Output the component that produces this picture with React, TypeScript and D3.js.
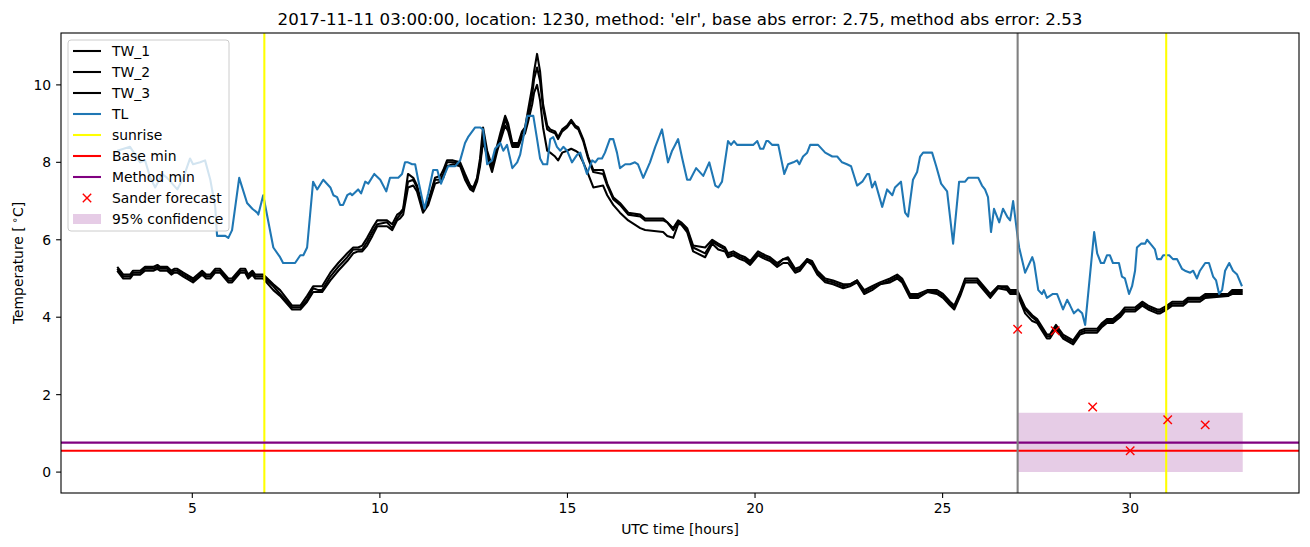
import React from 'react';
import * as d3 from 'd3';

// ---------- data ----------
const TL_HOURS = [3.00,3.34,3.61,3.74,3.88,4.01,4.20,4.33,4.60,4.76,4.94,5.02,5.21,5.34,5.48,5.61,5.66,5.88,5.96,6.06,6.25,6.46,6.60,6.73,6.76,6.89,7.16,7.34,7.42,7.74,7.88,7.96,8.06,8.22,8.33,8.49,8.68,8.76,8.86,8.94,9.02,9.13,9.21,9.26,9.42,9.50,9.61,9.69,9.85,10.01,10.17,10.27,10.49,10.59,10.67,10.75,10.86,10.94,11.02,11.13,11.19,11.29,11.42,11.53,11.63,11.69,11.82,12.01,12.14,12.27,12.35,12.54,12.67,12.75,12.86,12.99,13.07,13.21,13.29,13.39,13.53,13.66,13.74,13.93,14.09,14.19,14.27,14.35,14.46,14.54,14.62,14.72,14.81,14.89,14.99,15.12,15.26,15.34,15.52,15.66,15.74,15.82,15.92,16.00,16.13,16.22,16.32,16.40,16.54,16.67,16.80,16.88,17.02,17.20,17.34,17.52,17.68,17.79,17.87,17.95,18.06,18.19,18.27,18.43,18.62,18.78,18.94,19.02,19.12,19.28,19.36,19.44,19.52,19.95,20.06,20.14,20.22,20.30,20.35,20.46,20.62,20.78,20.88,21.02,21.12,21.18,21.28,21.39,21.47,21.68,21.87,22.06,22.19,22.32,22.45,22.56,22.72,22.86,22.99,23.04,23.12,23.20,23.39,23.52,23.66,23.73,23.89,24.00,24.08,24.21,24.32,24.40,24.48,24.72,24.83,24.96,25.12,25.28,25.44,25.60,25.68,25.95,26.05,26.13,26.21,26.29,26.37,26.51,26.61,26.72,26.80,26.88,26.99,27.04,27.20,27.39,27.44,27.55,27.65,27.70,27.78,27.94,28.05,28.21,28.32,28.40,28.50,28.61,28.72,28.80,29.04,29.12,29.22,29.30,29.38,29.46,29.54,29.70,29.78,29.86,29.97,30.05,30.13,30.18,30.29,30.40,30.45,30.58,30.66,30.72,30.82,30.88,31.04,31.14,31.25,31.38,31.46,31.60,31.68,31.78,31.86,32.00,32.10,32.21,32.29,32.37,32.45,32.53,32.64,32.74,32.85,32.98];
const TL_VALUES = [8.3,8.4,8.0,8.05,7.6,7.35,7.7,7.6,7.3,7.6,8.1,7.95,8.0,8.05,7.55,6.85,6.1,6.1,6.05,6.25,7.6,6.95,6.8,6.7,6.65,7.15,5.8,5.55,5.4,5.4,5.6,5.6,5.8,7.5,7.3,7.55,7.35,7.15,7.1,6.9,6.9,7.15,7.2,7.15,7.3,7.2,7.5,7.45,7.7,7.55,7.25,7.6,7.6,7.7,8.0,8.0,7.95,7.95,7.55,7.05,6.8,7.2,7.8,7.8,7.45,7.6,7.9,7.9,8.05,8.5,8.65,8.9,8.9,8.85,7.95,8.05,8.35,8.5,8.3,8.45,7.85,8.0,8.2,9.2,9.2,8.6,8.1,7.95,7.95,8.6,8.65,8.4,8.3,8.4,8.3,8.0,8.2,8.25,7.7,8.05,8.0,8.1,8.1,8.25,8.6,8.6,8.25,7.85,7.95,7.95,8.0,7.95,7.6,8.0,8.4,8.85,8.0,8.3,8.45,8.6,8.1,7.55,7.55,7.85,7.65,8.0,7.4,7.35,7.5,8.55,8.45,8.55,8.45,8.45,8.55,8.35,8.35,8.55,8.55,8.45,8.45,7.7,7.95,8.0,8.05,7.95,8.15,8.25,8.45,8.45,8.25,8.15,8.15,8.0,7.95,7.9,7.4,7.5,7.7,7.7,7.35,7.5,6.85,7.3,7.15,7.35,7.5,6.7,6.6,7.55,7.75,8.15,8.25,8.25,7.9,7.45,7.25,5.9,7.5,7.5,7.6,7.6,7.4,7.3,7.1,6.2,6.8,6.45,6.8,6.6,6.5,7.0,6.15,5.8,5.15,5.55,5.4,4.7,4.6,4.7,4.5,4.6,4.6,4.2,4.45,4.3,4.1,4.2,4.1,3.8,6.2,5.65,5.4,5.4,5.6,5.6,5.4,5.4,5.05,5.0,4.6,4.8,5.2,5.8,5.9,5.9,6.0,5.85,5.75,5.5,5.5,5.6,5.6,5.5,5.5,5.25,5.2,5.15,5.2,5.0,5.2,5.4,5.4,5.05,4.95,4.6,4.7,5.2,5.4,5.2,5.1,4.8];

const TW_HOURS = [3.00,3.16,3.34,3.42,3.61,3.74,3.96,4.07,4.14,4.33,4.44,4.52,4.60,4.76,5.02,5.26,5.37,5.48,5.61,5.74,5.96,6.06,6.28,6.41,6.49,6.60,6.68,6.89,7.16,7.34,7.66,7.88,8.06,8.22,8.36,8.46,8.68,8.89,9.13,9.29,9.42,9.53,9.66,9.80,9.93,10.19,10.33,10.46,10.54,10.62,10.75,10.89,10.99,11.15,11.29,11.47,11.61,11.69,11.79,11.95,12.14,12.27,12.41,12.49,12.59,12.67,12.75,12.86,12.99,13.13,13.21,13.34,13.42,13.53,13.69,13.79,13.87,13.95,14.06,14.11,14.19,14.27,14.35,14.46,14.54,14.67,14.75,14.86,14.99,15.10,15.21,15.29,15.42,15.55,15.69,15.95,16.06,16.22,16.40,16.62,16.94,17.07,17.55,17.66,17.82,17.95,18.03,18.19,18.35,18.67,18.86,19.02,19.20,19.28,19.42,19.60,19.74,19.87,20.08,20.27,20.40,20.59,20.75,20.88,21.07,21.20,21.39,21.52,21.66,21.87,22.08,22.35,22.53,22.72,22.91,23.12,23.33,23.60,23.79,23.92,24.13,24.35,24.59,24.85,25.01,25.20,25.31,25.47,25.60,25.92,26.27,26.48,26.72,26.80,26.99,27.20,27.39,27.52,27.78,27.86,28.02,28.21,28.48,28.66,28.80,29.12,29.25,29.38,29.54,29.73,29.86,30.13,30.32,30.48,30.72,30.80,30.98,31.12,31.41,31.54,31.86,32.00,32.61,32.72,33.00];
const TW_1 = [5.3,5.1,5.1,5.2,5.2,5.3,5.3,5.35,5.3,5.3,5.2,5.25,5.25,5.15,5.0,5.2,5.1,5.1,5.25,5.25,5.0,5.0,5.25,5.25,5.1,5.2,5.1,5.1,4.85,4.7,4.3,4.3,4.55,4.8,4.8,4.8,5.15,5.4,5.65,5.8,5.8,5.85,6.05,6.3,6.5,6.5,6.4,6.65,6.7,6.8,7.7,7.6,7.4,6.8,7.0,7.6,7.65,7.8,8.05,8.05,8.0,7.7,7.4,7.35,7.6,8.1,8.9,8.3,7.9,8.45,8.75,9.2,9.0,8.5,8.5,8.8,8.9,9.35,9.95,10.35,10.8,10.35,9.5,8.95,8.85,8.8,8.65,8.85,8.95,9.1,8.95,8.9,8.6,8.15,7.8,7.8,7.45,7.1,6.95,6.7,6.65,6.55,6.55,6.45,6.3,6.5,6.45,6.3,5.85,5.8,6.0,5.9,5.8,5.65,5.7,5.6,5.55,5.45,5.7,5.6,5.55,5.4,5.5,5.55,5.25,5.3,5.5,5.45,5.2,5.0,4.95,4.85,4.85,4.95,4.7,4.8,4.9,5.0,5.1,5.0,4.6,4.6,4.7,4.7,4.6,4.4,4.3,4.65,5.0,5.0,4.6,4.8,4.8,4.7,4.7,4.25,4.05,3.95,3.55,3.55,3.8,3.55,3.4,3.65,3.7,3.7,3.85,3.95,3.95,4.1,4.25,4.25,4.4,4.3,4.2,4.2,4.3,4.4,4.4,4.5,4.5,4.6,4.6,4.7,4.7];
const TW_2 = [5.25,5.05,5.05,5.15,5.15,5.25,5.25,5.3,5.25,5.25,5.15,5.2,5.2,5.1,4.95,5.15,5.05,5.05,5.2,5.2,4.95,4.95,5.2,5.2,5.05,5.15,5.05,5.05,4.8,4.6,4.25,4.25,4.45,4.75,4.7,4.7,5.05,5.3,5.55,5.75,5.75,5.75,5.95,6.2,6.4,6.45,6.3,6.55,6.65,6.75,7.5,7.55,7.35,6.75,6.95,7.55,7.55,7.7,8.0,8.0,7.95,7.65,7.35,7.3,7.55,8.0,8.6,8.2,7.85,8.4,8.65,9.1,8.9,8.45,8.45,8.75,8.85,9.2,9.75,10.15,10.45,10.1,9.4,8.85,8.8,8.75,8.6,8.8,8.9,9.05,8.9,8.85,8.55,8.1,7.75,7.7,7.4,7.05,6.9,6.65,6.6,6.5,6.5,6.45,6.25,6.45,6.4,6.25,5.8,5.65,5.95,5.85,5.75,5.6,5.65,5.55,5.5,5.4,5.65,5.55,5.5,5.35,5.5,5.5,5.2,5.25,5.5,5.4,5.15,4.95,4.9,4.8,4.85,4.95,4.65,4.75,4.85,4.95,5.05,4.95,4.55,4.55,4.65,4.65,4.55,4.35,4.25,4.6,4.95,4.95,4.55,4.8,4.75,4.65,4.65,4.2,4.0,3.9,3.5,3.5,3.75,3.5,3.35,3.6,3.65,3.65,3.8,3.9,3.9,4.05,4.2,4.2,4.35,4.25,4.15,4.15,4.25,4.35,4.35,4.45,4.45,4.55,4.55,4.65,4.65];
const TW_3 = [5.2,5.0,5.0,5.1,5.1,5.2,5.2,5.25,5.2,5.2,5.1,5.15,5.15,5.05,4.9,5.1,5.0,5.0,5.15,5.15,4.9,4.9,5.15,5.15,5.0,5.1,5.0,5.0,4.7,4.55,4.2,4.2,4.4,4.65,4.65,4.65,4.95,5.2,5.45,5.65,5.7,5.7,5.85,6.1,6.35,6.35,6.25,6.5,6.55,6.65,7.35,7.4,7.25,6.7,6.9,7.45,7.5,7.6,7.9,7.95,7.9,7.55,7.3,7.25,7.5,7.9,8.55,8.15,7.75,8.3,8.55,8.95,8.8,8.4,8.4,8.65,8.75,9.05,9.5,9.8,10.0,9.6,8.9,8.3,8.25,8.15,8.05,8.25,8.3,8.35,8.3,8.25,8.0,7.7,7.35,7.4,7.15,6.9,6.7,6.5,6.3,6.25,6.2,6.1,6.05,6.4,6.4,6.2,5.7,5.55,5.9,5.75,5.7,5.55,5.6,5.5,5.45,5.35,5.6,5.5,5.45,5.3,5.4,5.4,5.15,5.2,5.45,5.35,5.1,4.9,4.85,4.75,4.8,4.9,4.6,4.7,4.85,4.9,5.0,4.9,4.5,4.5,4.65,4.6,4.5,4.3,4.2,4.55,4.9,4.9,4.5,4.75,4.7,4.6,4.6,4.1,3.9,3.85,3.45,3.45,3.7,3.45,3.3,3.55,3.6,3.6,3.75,3.85,3.85,4.0,4.15,4.15,4.3,4.2,4.1,4.1,4.2,4.3,4.3,4.4,4.4,4.5,4.55,4.6,4.6];

const SUNRISE_HOURS = [6.92, 30.96];
const FORECAST_HOUR = 27.0;
const BASE_MIN = 0.55;
const METHOD_MIN = 0.76;
const SANDER_HOURS = [27, 28, 29, 30, 31, 32];
const SANDER_VALUES = [3.69, 3.65, 1.68, 0.55, 1.35, 1.22];
const CONF_HOURS = [27, 33];
const CONF_LOW = [0, 0];
const CONF_HIGH = [1.53, 1.53];

const X_TICKS = [5, 10, 15, 20, 25, 30];
const Y_TICKS = [0, 2, 4, 6, 8, 10];
const TITLE = "2017-11-11 03:00:00, location: 1230, method: 'elr', base abs error: 2.75, method abs error: 2.53";

const LEGEND = [
  { label: 'TW_1', kind: 'line', color: '#000000' },
  { label: 'TW_2', kind: 'line', color: '#000000' },
  { label: 'TW_3', kind: 'line', color: '#000000' },
  { label: 'TL', kind: 'line', color: '#1f77b4' },
  { label: 'sunrise', kind: 'line', color: '#ffff00' },
  { label: 'Base min', kind: 'line', color: '#ff0000' },
  { label: 'Method min', kind: 'line', color: '#800080' },
  { label: 'Sander forecast', kind: 'marker', color: '#ff0000' },
  { label: '95% confidence', kind: 'patch', color: '#800080' },
];

// ---------- layout ----------
const W = 1310, H = 547;
const L = 61, R = 1299, T = 33, B = 493;
const FONT = 'DejaVu Sans, sans-serif';
const LW = 2.08;

export default function App() {
  const x = d3.scaleLinear().domain([1.5, 34.5]).range([L, R]);
  const y = d3.scaleLinear().domain([-0.54, 11.34]).range([B, T]);

  const mkLine = (hs: number[], vs: number[]) =>
    d3.line<number>().x((_, i) => x(hs[i])).y((v) => y(v))(vs) || '';

  const area = d3.area<number>()
    .x((_, i) => x(CONF_HOURS[i]))
    .y0((_, i) => y(CONF_LOW[i]))
    .y1((v) => y(v))(CONF_HIGH) || '';

  const xMark = (cx: number, cy: number, r: number, key: any, color: string) => (
    <g key={key} stroke={color} strokeWidth={1.4}>
      <line x1={cx - r} y1={cy - r} x2={cx + r} y2={cy + r} />
      <line x1={cx - r} y1={cy + r} x2={cx + r} y2={cy - r} />
    </g>
  );

  const legX = 68, legY = 40, legW = 161, legH = 191;
  const rowY0 = 51, rowDy = 21;

  return (
    <svg width={W} height={H} style={{ position: 'absolute', left: 0, top: 0, background: '#fff' }} fontFamily={FONT}>
      <defs>
        <clipPath id="plotclip"><rect x={L} y={T} width={R - L} height={B - T} /></clipPath>
      </defs>
      <rect x={0} y={0} width={W} height={H} fill="#fff" />
      <g clipPath="url(#plotclip)">
        <path d={area} fill="#800080" fillOpacity={0.2} />
        <path d={mkLine(TW_HOURS, TW_1)} fill="none" stroke="#000" strokeWidth={LW} strokeLinejoin="round" />
        <path d={mkLine(TW_HOURS, TW_2)} fill="none" stroke="#000" strokeWidth={LW} strokeLinejoin="round" />
        <path d={mkLine(TW_HOURS, TW_3)} fill="none" stroke="#000" strokeWidth={LW} strokeLinejoin="round" />
        <path d={mkLine(TL_HOURS, TL_VALUES)} fill="none" stroke="#1f77b4" strokeWidth={LW} strokeLinejoin="round" />
        {SUNRISE_HOURS.map((h, i) => (
          <line key={'s' + i} x1={x(h)} x2={x(h)} y1={T} y2={B} stroke="#ffff00" strokeWidth={LW} />
        ))}
        <line x1={L} x2={R} y1={y(BASE_MIN)} y2={y(BASE_MIN)} stroke="#ff0000" strokeWidth={LW} />
        <line x1={L} x2={R} y1={y(METHOD_MIN)} y2={y(METHOD_MIN)} stroke="#800080" strokeWidth={LW} />
        <line x1={x(FORECAST_HOUR)} x2={x(FORECAST_HOUR)} y1={T} y2={B} stroke="#808080" strokeWidth={LW} />
        {SANDER_HOURS.map((h, i) => xMark(x(h), y(SANDER_VALUES[i]), 4.2, 'm' + i, '#ff0000'))}
      </g>

      {/* axes frame */}
      <rect x={L} y={T} width={R - L} height={B - T} fill="none" stroke="#000" strokeWidth={1.1} />

      {/* x ticks */}
      {X_TICKS.map((t) => (
        <g key={'xt' + t}>
          <line x1={x(t)} x2={x(t)} y1={B} y2={B + 4.9} stroke="#000" strokeWidth={1.1} />
          <text x={x(t)} y={513} fontSize={13.9} textAnchor="middle" fill="#000">{t}</text>
        </g>
      ))}
      {/* y ticks */}
      {Y_TICKS.map((t) => (
        <g key={'yt' + t}>
          <line x1={L - 4.9} x2={L} y1={y(t)} y2={y(t)} stroke="#000" strokeWidth={1.1} />
          <text x={L - 9.8} y={y(t)} dy="0.36em" fontSize={13.9} textAnchor="end" fill="#000">{t}</text>
        </g>
      ))}

      <text x={(L + R) / 2} y={534} fontSize={13.9} textAnchor="middle" fill="#000">UTC time [hours]</text>
      <text transform={`translate(23,${(T + B) / 2}) rotate(-90)`} fontSize={13.9} textAnchor="middle" fill="#000">
        Temperature [<tspan dx="3" fontSize={10} dy="-5">∘</tspan><tspan dy="5">C]</tspan>
      </text>
      <text x={(L + R) / 2} y={25} fontSize={16.67} textAnchor="middle" fill="#000">{TITLE}</text>

      {/* legend */}
      <rect x={legX} y={legY} width={legW} height={legH} rx={3} ry={3} fill="#fff" fillOpacity={0.8} stroke="#cccccc" strokeWidth={1} />
      {LEGEND.map((e, i) => {
        const cy = rowY0 + i * rowDy;
        let handle;
        if (e.kind === 'line') {
          handle = <line x1={73} x2={101} y1={cy} y2={cy} stroke={e.color} strokeWidth={LW} />;
        } else if (e.kind === 'marker') {
          handle = xMark(87, cy, 4.2, 'lm', e.color);
        } else {
          handle = <rect x={73} y={cy - 5} width={28} height={10} fill={e.color} fillOpacity={0.2} />;
        }
        return (
          <g key={'lg' + i}>
            {handle}
            <text x={112} y={cy} dy="0.36em" fontSize={13.9} fill="#000">{e.label}</text>
          </g>
        );
      })}
    </svg>
  );
}
